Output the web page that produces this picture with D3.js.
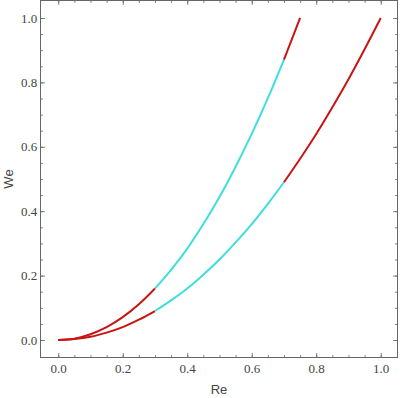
<!DOCTYPE html>
<html lang="en">
<head>
    <meta charset="UTF-8">
    <title>We vs Re</title>
    <script src="https://d3js.org/d3.v7.min.js"></script>
    <style>
        body { margin: 0; background: #fff; }
    </style>
</head>
<body>
    <svg width="400" height="398"></svg>

    <script>
        // Values
        const reLeft = [0, 0.05, 0.1, 0.15, 0.2, 0.25, 0.3, 0.35, 0.4, 0.45, 0.5, 0.55, 0.6, 0.65, 0.7, 0.75];
        const weLeft = [0, 0.004, 0.018, 0.04, 0.071, 0.111, 0.16, 0.218, 0.284, 0.36, 0.444, 0.538, 0.64, 0.751, 0.871, 1.0];
        const reRight = [0, 0.05, 0.1, 0.15, 0.2, 0.25, 0.3, 0.35, 0.4, 0.45, 0.5, 0.55, 0.6, 0.65, 0.7, 0.75, 0.8, 0.85, 0.9, 0.95, 1.0];
        const weRight = [0, 0.003, 0.01, 0.023, 0.04, 0.063, 0.09, 0.123, 0.16, 0.203, 0.25, 0.303, 0.36, 0.423, 0.49, 0.563, 0.64, 0.723, 0.81, 0.903, 1.0];
        // middle part of each curve is cyan, ends are red
        const segBreaks = [0.3, 0.7];
        const segColors = ["#c81414", "#3fdede", "#c81414"];
        const tickValues = [0, 0.2, 0.4, 0.6, 0.8, 1.0];
        const minorTickValues = d3.range(0, 21).map(i => i * 0.05);

        const svg = d3.select("svg");
        const frame = {left: 40.5, right: 397.5, top: 0.5, bottom: 357.5};

        const x = d3.scaleLinear().domain([-0.055, 1.052]).range([frame.left, frame.right]);
        const y = d3.scaleLinear().domain([-0.0543, 1.0543]).range([frame.bottom, frame.top]);

        const frameColor = "#666";
        const labelColor = "#444";
        const labelFont = "'Liberation Serif', 'DejaVu Serif', serif";

        // Frame ticks on all four sides, pointing inward
        function ticks(axis, transform, size, labels) {
            const g = svg.append("g")
                .attr("transform", transform)
                .call(axis.tickSizeInner(-size).tickSizeOuter(0));
            g.select(".domain").remove();
            g.selectAll("line").attr("stroke", frameColor).attr("stroke-width", 0.8);
            if (!labels) g.selectAll("text").remove();
            return g;
        }

        ticks(d3.axisBottom(x).tickValues(minorTickValues), `translate(0,${frame.bottom})`, 2.5, false);
        ticks(d3.axisTop(x).tickValues(minorTickValues), `translate(0,${frame.top})`, 2.5, false);
        ticks(d3.axisLeft(y).tickValues(minorTickValues), `translate(${frame.left},0)`, 2.5, false);
        ticks(d3.axisRight(y).tickValues(minorTickValues), `translate(${frame.right},0)`, 2.5, false);

        ticks(d3.axisTop(x).tickValues(tickValues), `translate(0,${frame.top})`, 4.5, false);
        ticks(d3.axisRight(y).tickValues(tickValues), `translate(${frame.right},0)`, 4.5, false);

        const xAxis = ticks(d3.axisBottom(x).tickValues(tickValues).tickFormat(d3.format(".1f")),
            `translate(0,${frame.bottom})`, 4.5, true);
        xAxis.selectAll("text")
            .attr("y", 15)
            .attr("dy", 0)
            .style("font-family", labelFont)
            .style("font-size", "13px")
            .attr("fill", labelColor);

        const yAxis = ticks(d3.axisLeft(y).tickValues(tickValues).tickFormat(d3.format(".1f")),
            `translate(${frame.left},0)`, 4.5, true);
        yAxis.selectAll("text")
            .attr("x", -3.2)
            .attr("dy", "0.32em")
            .style("font-family", labelFont)
            .style("font-size", "13px")
            .attr("fill", labelColor);

        // Frame
        svg.append("rect")
            .attr("x", frame.left)
            .attr("y", frame.top)
            .attr("width", frame.right - frame.left)
            .attr("height", frame.bottom - frame.top)
            .attr("fill", "none")
            .attr("stroke", frameColor)
            .attr("stroke-width", 1);

        // Axis labels
        svg.append("text")
            .attr("x", (frame.left + frame.right) / 2)
            .attr("y", 394)
            .attr("text-anchor", "middle")
            .style("font-family", "'Liberation Sans', Arial, sans-serif")
            .style("font-size", "13px")
            .attr("fill", labelColor)
            .text("Re");

        svg.append("text")
            .attr("transform", `translate(13,${(frame.top + frame.bottom) / 2}) rotate(-90)`)
            .attr("text-anchor", "middle")
            .style("font-family", "'Liberation Sans', Arial, sans-serif")
            .style("font-size", "13px")
            .attr("fill", labelColor)
            .text("We");

        // Curves
        const line = d3.line()
            .x(d => x(d.re))
            .y(d => y(d.we))
            .curve(d3.curveCatmullRom);

        const curves = [
            reLeft.map((r, i) => ({re: r, we: weLeft[i]})),
            reRight.map((r, i) => ({re: r, we: weRight[i]}))
        ];

        const plot = svg.append("g");
        curves.forEach(pts => {
            const bounds = [-Infinity, ...segBreaks, Infinity];
            segColors.forEach((color, k) => {
                const seg = pts.filter(d => d.re >= bounds[k] - 1e-9 && d.re <= bounds[k + 1] + 1e-9);
                if (seg.length < 2) return;
                plot.append("path")
                    .datum(seg)
                    .attr("d", line)
                    .attr("fill", "none")
                    .attr("stroke", color)
                    .attr("stroke-width", 2)
                    .attr("stroke-linecap", "butt");
            });
        });
    </script>
</body>
</html>
